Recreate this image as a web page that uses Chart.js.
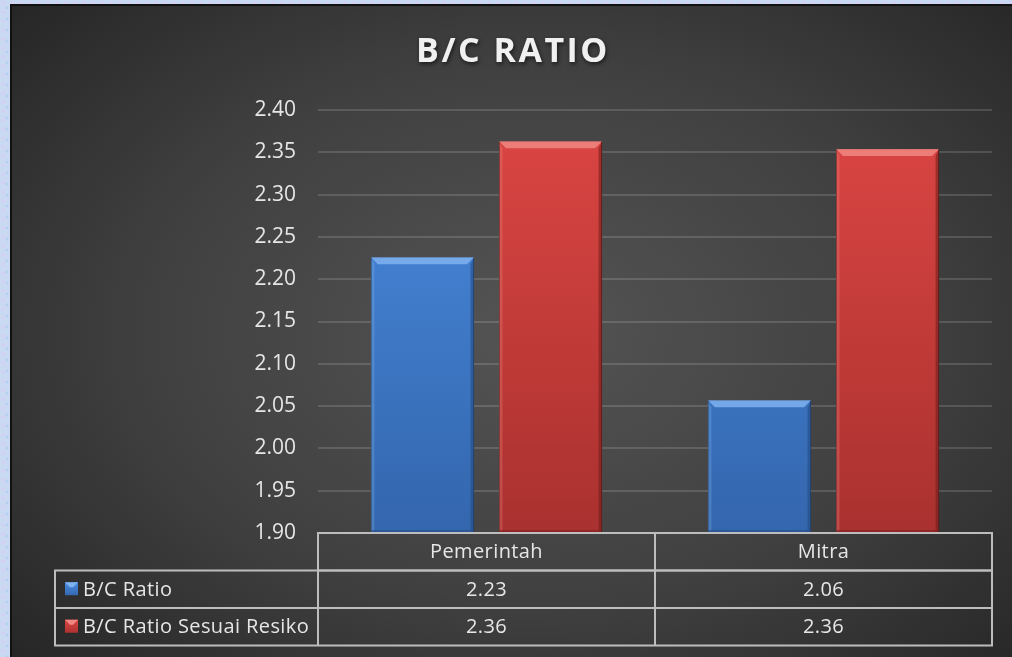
<!DOCTYPE html>
<html>
<head>
<meta charset="utf-8">
<script src="https://cdn.jsdelivr.net/npm/chart.js@4.4.1/dist/chart.umd.min.js"></script>
<style>
    html, body {
        margin: 0;
        padding: 0;
        width: 1012px;
        height: 657px;
        overflow: hidden;
        background-color: #cad9f2;
        background-image:
            radial-gradient(circle at 3px 3px, rgba(220, 200, 245, 0.7) 1px, transparent 2px),
            radial-gradient(circle at 7px 8px, rgba(175, 205, 240, 0.8) 1px, transparent 2px);
        background-size: 9px 9px, 11px 11px;
    }
    #panel {
        position: absolute;
        left: 10px;
        top: 4px;
        width: 1002px;
        height: 653px;
        border-left: 2px solid #111;
        border-top: 2px solid #111;
        box-sizing: border-box;
        background: radial-gradient(ellipse 70% 75% at 52% 50%, #545454 0%, #404040 55%, #262626 100%);
    }
    #chartWrap {
        position: absolute;
        left: 10px;
        top: 4px;
        width: 1002px;
        height: 653px;
    }
</style>
</head>
<body>
<div id="panel"></div>
<div id="chartWrap"><canvas id="bcChart"></canvas></div>
<script>
// Chart data
const chartTitle = "B/C RATIO";
const categories = ["Pemerintah", "Mitra"];
const seriesNames = ["B/C Ratio", "B/C Ratio Sesuai Resiko"];
const bcRatio = [2.226, 2.057];
const bcRatioResiko = [2.363, 2.354];
const tableValues = [
    ["2.23", "2.06"],
    ["2.36", "2.36"],
];

const FONT = "'Open Sans', 'DejaVu Sans', sans-serif";
const TEXT_COLOR = "#e6e6e6";
const LINE_COLOR = "#bdbdbd";

const barColors = [
    { top: "#4a8ce0", bottom: "#3366ad", light: "#7fb2f0", dark: "#23487d" },
    { top: "#dc4643", bottom: "#a9312f", light: "#f08783", dark: "#6e1d1c" },
];

function barGradient(context, idx) {
    const chart = context.chart;
    const area = chart.chartArea;
    if (!area) return barColors[idx].top;
    const g = chart.ctx.createLinearGradient(0, area.top, 0, area.bottom);
    g.addColorStop(0, barColors[idx].top);
    g.addColorStop(1, barColors[idx].bottom);
    return g;
}

// Title with letter spacing and soft shadow
const titlePlugin = {
    id: "spacedTitle",
    beforeDraw(chart) {
        const ctx = chart.ctx;
        ctx.save();
        ctx.font = "bold 34px " + FONT;
        ctx.letterSpacing = "2.5px";
        ctx.textAlign = "center";
        ctx.textBaseline = "middle";
        ctx.shadowColor = "rgba(0, 0, 0, 0.6)";
        ctx.shadowBlur = 4;
        ctx.shadowOffsetX = 1;
        ctx.shadowOffsetY = 2;
        ctx.fillStyle = "#f0f0f0";
        ctx.fillText(chartTitle, chart.width / 2 + 2, 48);
        ctx.restore();
    },
};

// Bevel edges on each bar
const bevelPlugin = {
    id: "bevel",
    afterDatasetsDraw(chart) {
        const ctx = chart.ctx;
        const area = chart.chartArea;
        const b = 7;
        ctx.save();
        ctx.beginPath();
        ctx.rect(area.left, area.top, area.right - area.left, area.bottom - area.top);
        ctx.clip();
        chart.data.datasets.forEach((ds, di) => {
            const meta = chart.getDatasetMeta(di);
            const c = barColors[di];
            meta.data.forEach((bar) => {
                const l = bar.x - bar.width / 2;
                const r = bar.x + bar.width / 2;
                const t = bar.y;
                const btm = area.bottom;
                // top
                ctx.fillStyle = c.light;
                ctx.globalAlpha = 0.85;
                ctx.beginPath();
                ctx.moveTo(l, t);
                ctx.lineTo(r, t);
                ctx.lineTo(r - b, t + b);
                ctx.lineTo(l + b, t + b);
                ctx.closePath();
                ctx.fill();
                // left
                ctx.globalAlpha = 0.3;
                ctx.beginPath();
                ctx.moveTo(l, t);
                ctx.lineTo(l + b * 0.5, t + b);
                ctx.lineTo(l + b * 0.5, btm - 3);
                ctx.lineTo(l, btm);
                ctx.closePath();
                ctx.fill();
                // right and bottom
                ctx.fillStyle = c.dark;
                ctx.globalAlpha = 0.55;
                ctx.beginPath();
                ctx.moveTo(r, t);
                ctx.lineTo(r - b * 0.5, t + b);
                ctx.lineTo(r - b * 0.5, btm - 3);
                ctx.lineTo(r, btm);
                ctx.closePath();
                ctx.fill();
                ctx.globalAlpha = 0.45;
                ctx.fillRect(l, btm - 3, r - l, 3);
            });
        });
        ctx.restore();
    },
};

// Data table under the plot, columns follow the x scale
const dataTablePlugin = {
    id: "dataTable",
    afterDraw(chart) {
        const ctx = chart.ctx;
        const area = chart.chartArea;
        const xScale = chart.scales.x;
        const colW = (area.right - area.left) / categories.length;
        const rowH = 37.5;
        const legendLeft = 45;
        const top = area.bottom;

        ctx.save();
        ctx.strokeStyle = LINE_COLOR;
        ctx.lineWidth = 2;

        // header row
        ctx.strokeRect(area.left, top, area.right - area.left, rowH);
        for (let i = 1; i < categories.length; i++) {
            const x = area.left + colW * i;
            ctx.beginPath();
            ctx.moveTo(x, top);
            ctx.lineTo(x, top + rowH * 3);
            ctx.stroke();
        }
        // series rows
        ctx.strokeRect(legendLeft, top + rowH, area.right - legendLeft, rowH * 2);
        ctx.beginPath();
        ctx.moveTo(legendLeft, top + rowH * 2);
        ctx.lineTo(area.right, top + rowH * 2);
        ctx.moveTo(area.left, top);
        ctx.lineTo(area.left, top + rowH * 3);
        ctx.stroke();

        ctx.font = "20px " + FONT;
        ctx.letterSpacing = "0.4px";
        ctx.fillStyle = TEXT_COLOR;
        ctx.textBaseline = "middle";
        ctx.textAlign = "center";
        categories.forEach((cat, i) => {
            ctx.fillText(cat, xScale.getPixelForValue(i), top + rowH / 2 + 1);
        });
        tableValues.forEach((row, r) => {
            row.forEach((v, i) => {
                ctx.fillText(v, xScale.getPixelForValue(i), top + rowH * (r + 1.5) + 1);
            });
        });

        // legend keys
        ctx.textAlign = "left";
        seriesNames.forEach((name, r) => {
            const cy = top + rowH * (r + 1.5);
            const c = barColors[r];
            const g = ctx.createLinearGradient(0, cy - 7, 0, cy + 7);
            g.addColorStop(0, c.top);
            g.addColorStop(1, c.bottom);
            ctx.fillStyle = g;
            ctx.fillRect(legendLeft + 10, cy - 7, 13, 13);
            ctx.fillStyle = c.light;
            ctx.beginPath();
            ctx.moveTo(legendLeft + 10, cy - 7);
            ctx.lineTo(legendLeft + 23, cy - 7);
            ctx.lineTo(legendLeft + 18, cy - 2);
            ctx.lineTo(legendLeft + 15, cy - 2);
            ctx.closePath();
            ctx.fill();
            ctx.fillStyle = TEXT_COLOR;
            ctx.fillText(name, legendLeft + 28, cy + 1);
        });
        ctx.restore();
    },
};

document.addEventListener("DOMContentLoaded", function () {
    const ctx = document.getElementById("bcChart").getContext("2d");
    new Chart(ctx, {
        type: "bar",
        data: {
            labels: categories,
            datasets: [
                {
                    label: seriesNames[0],
                    data: bcRatio,
                    backgroundColor: (c) => barGradient(c, 0),
                    borderColor: "#1f3f6e",
                    borderWidth: 1,
                },
                {
                    label: seriesNames[1],
                    data: bcRatioResiko,
                    backgroundColor: (c) => barGradient(c, 1),
                    borderColor: "#5e1a19",
                    borderWidth: 1,
                },
            ],
        },
        options: {
            responsive: true,
            maintainAspectRatio: false,
            animation: false,
            datasets: {
                bar: {
                    categoryPercentage: 0.76,
                    barPercentage: 0.805,
                },
            },
            layout: {
                padding: { top: 106, right: 20, bottom: 124, left: 0 },
            },
            plugins: {
                legend: { display: false },
                tooltip: { enabled: false },
                title: { display: false },
            },
            scales: {
                x: {
                    display: false,
                },
                y: {
                    min: 1.9,
                    max: 2.4,
                    afterFit: function (scale) {
                        scale.width = 308;
                    },
                    border: { display: false },
                    grid: {
                        color: "rgba(255, 255, 255, 0.14)",
                        lineWidth: 2,
                        drawTicks: false,
                    },
                    ticks: {
                        stepSize: 0.05,
                        padding: 22,
                        color: TEXT_COLOR,
                        font: { family: FONT, size: 21 },
                        callback: function (value) {
                            return Number(value).toFixed(2);
                        },
                    },
                },
            },
        },
        plugins: [titlePlugin, bevelPlugin, dataTablePlugin],
    });
});
</script>
</body>
</html>
